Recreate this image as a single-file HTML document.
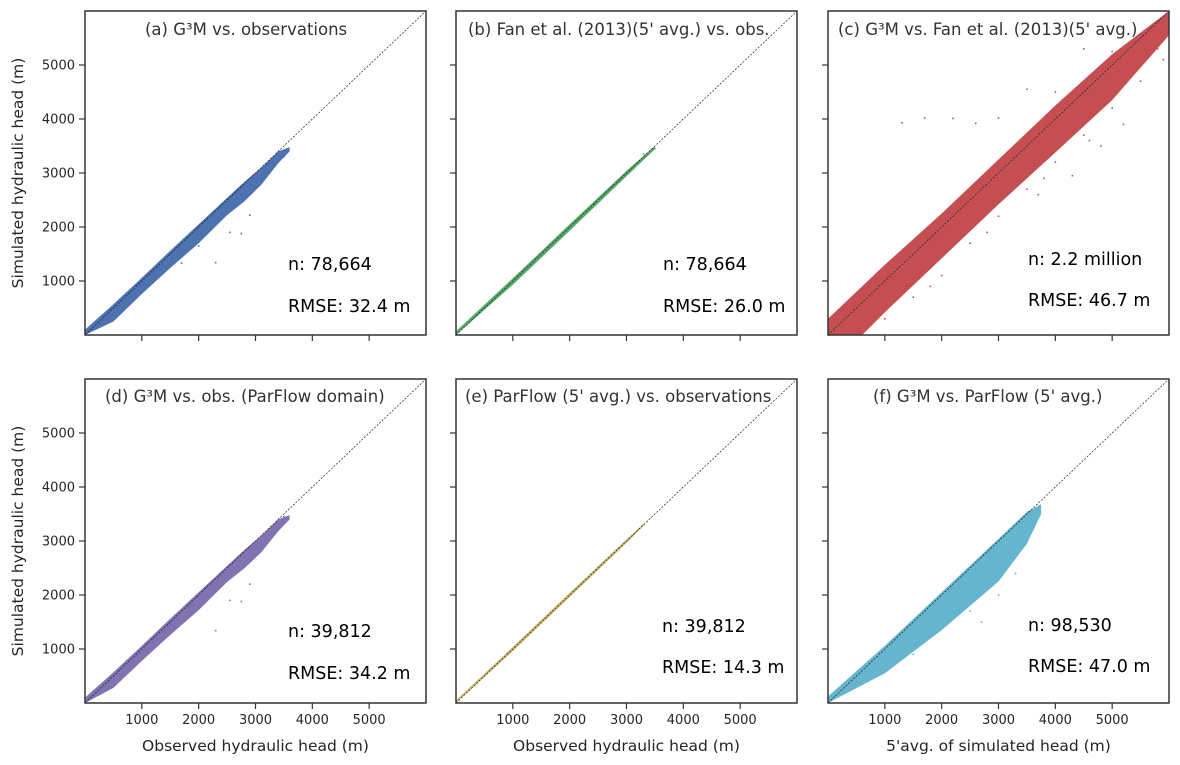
<!DOCTYPE html>
<html><head><meta charset="utf-8">
<style>
html,body{margin:0;padding:0;background:#fff;}
svg{display:block;font-family:"DejaVu Sans","Liberation Sans",sans-serif;}
</style></head>
<body>
<svg id="fig" width="1180" height="765" viewBox="0 0 1180 765" xmlns="http://www.w3.org/2000/svg"></svg>
<script>
// ---- data ----
const tickValues = [1000, 2000, 3000, 4000, 5000];
const tickLabels = ["1000", "2000", "3000", "4000", "5000"];
const panelTitles = ["(a)  G\u00b3M vs. observations", "(b)  Fan et al. (2013)(5' avg.) vs.  obs.", "(c)  G\u00b3M vs. Fan et al. (2013)(5' avg.)", "(d)  G\u00b3M vs.  obs. (ParFlow domain)", "(e)  ParFlow (5' avg.) vs.  observations", "(f)   G\u00b3M vs. ParFlow (5' avg.)"];
const panelN = ["n: 78,664", "n: 78,664", "n: 2.2 million", "n: 39,812", "n: 39,812", "n: 98,530"];
const panelRMSE = ["RMSE: 32.4 m", "RMSE: 26.0 m", "RMSE: 46.7 m", "RMSE: 34.2 m", "RMSE: 14.3 m", "RMSE: 47.0 m"];
const panelColors = ["#4c72b0", "#55a868", "#c44e52", "#8172b2", "#ccb974", "#64b5cd"];
// band envelopes (x, upper y, lower y) in metres
const bandX_a = [0, 500, 1000, 1500, 2000, 2500, 2800, 3100, 3400, 3600];
const bandU_a = [100, 570, 1060, 1560, 2050, 2540, 2830, 3100, 3400, 3480];
const bandL_a = [0, 250, 760, 1240, 1700, 2220, 2470, 2780, 3180, 3400];
const bandX_b = [0, 1000, 2000, 3000, 3500];
const bandU_b = [70, 1050, 2050, 3040, 3500];
const bandL_b = [0, 930, 1930, 2940, 3440];
const bandX_c = [0, 600, 1000, 2000, 3000, 4000, 5000, 6000];
const bandU_c = [300, 900, 1300, 2250, 3250, 4250, 5200, 6000];
const bandL_c = [0, 0, 420, 1420, 2420, 3380, 4350, 5550];
const bandX_d = [0, 500, 1000, 1500, 2000, 2500, 2800, 3100, 3400, 3600];
const bandU_d = [100, 570, 1060, 1560, 2050, 2540, 2830, 3100, 3400, 3480];
const bandL_d = [0, 280, 780, 1260, 1720, 2240, 2490, 2790, 3180, 3400];
const bandX_e = [0, 1000, 2000, 3000, 3300];
const bandU_e = [50, 1040, 2040, 3030, 3320];
const bandL_e = [0, 960, 1960, 2960, 3280];
const bandX_f = [0, 1000, 2000, 3000, 3500, 3750];
const bandU_f = [120, 1060, 2050, 3040, 3540, 3680];
const bandL_f = [0, 550, 1350, 2250, 2950, 3500];
// outlier points
const outX_a = [2300, 2550, 2900, 2750, 2000, 1700, 3500, 3250];
const outY_a = [1340, 1900, 2220, 1880, 1650, 1330, 3300, 3000];
const outX_b = [3300, 3500];
const outY_b = [3350, 3450];
const outX_c = [1300, 1700, 2200, 2600, 3000, 3500, 4000, 4500, 5000, 5500, 5900, 4600, 5200, 4300, 3800, 1000, 1500, 2000, 2500, 3000, 3500, 4000, 4500, 5000, 5500, 5800, 1800, 2800, 3700, 4800];
const outY_c = [3930, 4020, 4010, 3920, 4020, 4550, 4500, 5300, 5250, 5310, 5100, 3600, 3900, 2950, 2900, 300, 700, 1100, 1700, 2200, 2700, 3200, 3700, 4200, 4700, 5300, 900, 1900, 2600, 3500];
const outX_d = [2300, 2550, 2900, 2750, 3500];
const outY_d = [1340, 1900, 2200, 1880, 3450];
const outX_e = [3300];
const outY_e = [3300];
const outX_f = [1500, 2500, 3000, 3300, 2700];
const outY_f = [900, 1700, 2000, 2400, 1500];

const bands = [[bandX_a,bandU_a,bandL_a],[bandX_b,bandU_b,bandL_b],[bandX_c,bandU_c,bandL_c],[bandX_d,bandU_d,bandL_d],[bandX_e,bandU_e,bandL_e],[bandX_f,bandU_f,bandL_f]];
const outs = [[outX_a,outY_a],[outX_b,outY_b],[outX_c,outY_c],[outX_d,outY_d],[outX_e,outY_e],[outX_f,outY_f]];

const NS = "http://www.w3.org/2000/svg";
const svg = document.getElementById('fig');
function mk(tag, attrs, parent){const e=document.createElementNS(NS,tag);for(const k in attrs)e.setAttribute(k,attrs[k]);(parent||svg).appendChild(e);return e;}

const colX = [85, 456, 828], rowY = [11, 379], W = 341, H = 324, MAX = 6000;
const nPos = [[288,270,312],[663,270,312],[1028,265,306],[288,637,679],[662,632,673],[1028,631,672]];
const titlePos = [[145,35],[468,35],[838,35],[105,402],[465,402],[873,402]];

for (let p = 0; p < 6; p++) {
  const col = p % 3, row = Math.floor(p / 3);
  const x0 = colX[col], y0 = rowY[row];
  const sx = v => x0 + v / MAX * W;
  const sy = v => y0 + H - v / MAX * H;
  const g = mk('g', {});
  
  
  const cp = mk('clipPath', {id: 'c' + p}, g);
  mk('rect', {x: x0, y: y0, width: W, height: H}, cp);
  const plot = mk('g', {'clip-path': 'url(#c' + p + ')'}, g);
  const [bx, bu, bl] = bands[p];
  let pts = bx.map((v, i) => sx(v) + ',' + sy(bu[i]));
  for (let i = bx.length - 1; i >= 0; i--) pts.push(sx(bx[i]) + ',' + sy(bl[i]));
  const band = mk('polygon', {points: pts.join(' '), fill: panelColors[p]}, plot);
  
  
  const [ox, oy] = outs[p];
  for (let i = 0; i < ox.length; i++) {
    const d = mk('rect', {x: sx(ox[i]) - 0.8, y: sy(oy[i]) - 0.8, width: 1.6, height: 1.6, fill: panelColors[p]}, plot);
    
    
  }
  const ln = mk('line', {x1: sx(0), y1: sy(0), x2: sx(MAX), y2: sy(MAX), stroke: '#222', 'stroke-width': 0.7, 'stroke-dasharray': '2,1.5'}, plot);
  
  
  const fr = mk('rect', {x: x0, y: y0, width: W, height: H, fill: 'none', stroke: '#333', 'stroke-width': 1.5}, g);
  
  
  for (let i = 0; i < tickValues.length; i++) {
    const v = tickValues[i];
    mk('line', {x1: sx(v), y1: y0 + H, x2: sx(v), y2: y0 + H + 6, stroke: '#333', 'stroke-width': 1.2}, g);
    mk('line', {x1: x0, y1: sy(v), x2: x0 - 6, y2: sy(v), stroke: '#333', 'stroke-width': 1.2}, g);
    if (row === 1) {
      const t = mk('text', {x: sx(v), y: y0 + H + 21, 'text-anchor': 'middle', 'font-size': 13, fill: '#262626'}, g);
      t.textContent = tickLabels[i];
      
      
    }
    if (col === 0) {
      const t = mk('text', {x: x0 - 10, y: sy(v) + 4.5, 'text-anchor': 'end', 'font-size': 13, fill: '#262626'}, g);
      t.textContent = tickLabels[i];
      
      
    }
  }
  const tt = mk('text', {x: titlePos[p][0], y: titlePos[p][1], 'font-size': 16.5, fill: '#333'}, g);
  tt.textContent = panelTitles[p];
  
  
  const n = mk('text', {x: nPos[p][0], y: nPos[p][1], 'font-size': 17.5, fill: '#000'}, g);
  n.textContent = panelN[p];
  
  
  const r = mk('text', {x: nPos[p][0], y: nPos[p][2], 'font-size': 17.5, fill: '#000'}, g);
  r.textContent = panelRMSE[p];
  
  
}
const xl = ["Observed hydraulic head (m)", "Observed hydraulic head (m)", "5'avg. of simulated head (m)"];
for (let c = 0; c < 3; c++) {
  const t = mk('text', {x: colX[c] + W / 2, y: 751, 'text-anchor': 'middle', 'font-size': 15.5, fill: '#262626'});
  t.textContent = xl[c];
  
  
}
for (let r = 0; r < 2; r++) {
  const cy = rowY[r] + H / 2;
  const t = mk('text', {x: 23, y: cy, 'text-anchor': 'middle', 'font-size': 15.5, fill: '#262626', transform: 'rotate(-90 23 ' + cy + ')'});
  t.textContent = "Simulated hydraulic head (m)";
  
  
}
</script>
</body></html>
